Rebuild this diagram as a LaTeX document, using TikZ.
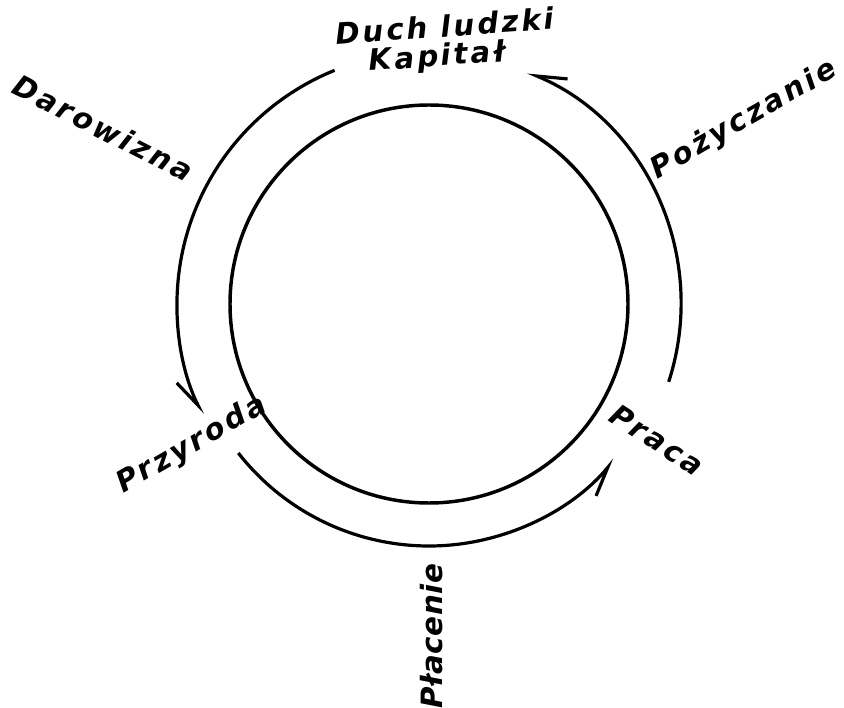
\documentclass[tikz,border=0pt]{standalone}
\usepackage{fontspec}
\setmainfont{DejaVu Sans}[LetterSpace=10]
\usetikzlibrary{arrows.meta}

\begin{document}
\begin{tikzpicture}[
x=0.75pt, y=0.75pt,
word/.style={font=\fontsize{22}{26}\selectfont\bfseries\itshape, inner sep=0pt},
flow/.style={line width=2.4pt, -{Straight Barb[right, length=22pt, width=14pt, line width=2.4pt]}},
ring/.style={line width=2.6pt}
]
\useasboundingbox (0,0) rectangle (844,708);
\coordinate (c) at (429,404);

% inner circle
\draw[ring] (c) circle (199);

% words
\node[word, rotate=4] (duch) at (445,682) {Duch ludzki};
\node[word, rotate=4] (kapital) at (437,650) {Kapitał};
\node[word, rotate=-27] (darowizna) at (103,580) {Darowizna};
\node[word, rotate=30] (pozyczanie) at (744,588) {Pożyczanie};
\node[word, rotate=30] (przyroda) at (192,263) {Przyroda};
\node[word, rotate=-33] (praca) at (657,268) {Praca};
\node[word, rotate=90, font=\fontsize{22}{26}\selectfont\bfseries\itshape\addfontfeature{LetterSpace=2}] (placenie) at (432,72) {Płacenie};

% outer arcs
\draw[flow] ([shift={(112:252)}]c) arc[start angle=112, end angle=206, radius=252];
\draw[flow] ([shift={(218:242)}]c) arc[start angle=218, end angle=320, radius=242];
\draw[flow] ([shift={(-18:252)}]c) arc[start angle=-18, end angle=67, radius=252];
\end{tikzpicture}
\end{document}
